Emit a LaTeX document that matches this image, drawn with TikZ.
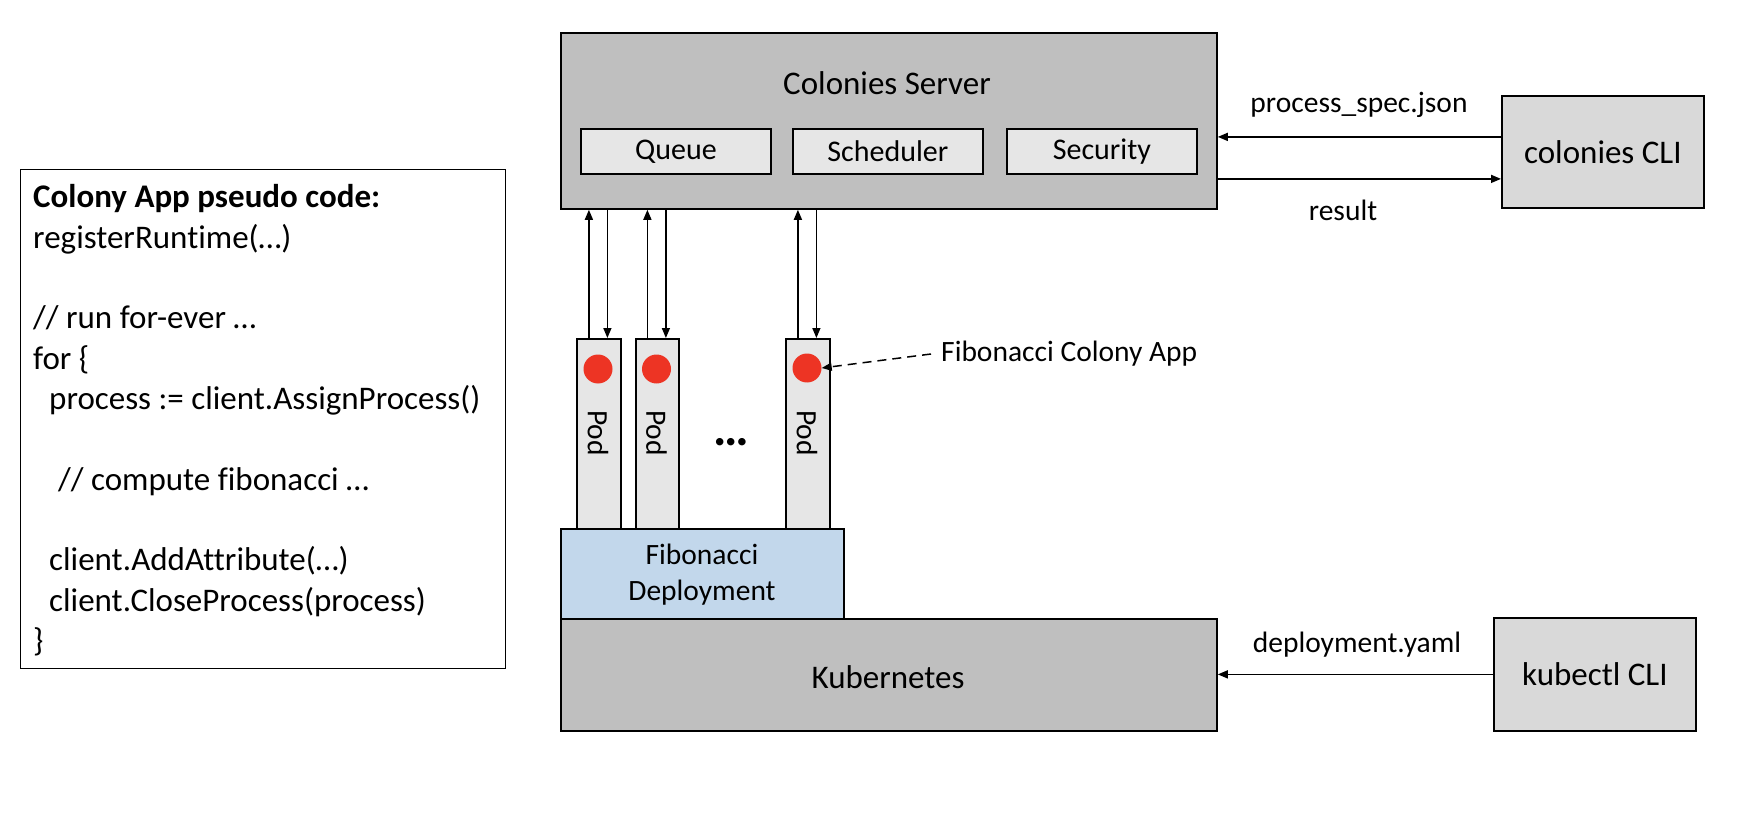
\documentclass[tikz,border=0pt]{standalone}
\usepackage{fontspec}
\setmainfont{Carlito}[Ligatures={NoCommon}]
\usetikzlibrary{arrows.meta}
\definecolor{srvgray}{RGB}{191,191,191}
\definecolor{subgray}{RGB}{230,230,230}
\definecolor{cligray}{RGB}{217,217,217}
\definecolor{deplblue}{RGB}{194,215,235}
\definecolor{dotred}{RGB}{237,52,36}
\tikzset{
  box/.style={draw=black, line width=1.8pt, inner sep=0pt, anchor=north west},
  arr/.style={line width=1.5pt, -{Triangle[length=10pt,width=8pt]}},
  codeline/.style={anchor=base west, inner sep=0pt, font=\fontsize{33}{40}\selectfont},
  bigtext/.style={inner sep=0pt, font=\fontsize{33}{40}\selectfont},
  midtext/.style={inner sep=0pt, font=\fontsize{30}{36}\selectfont},
  lbltext/.style={inner sep=0pt, font=\fontsize{29.5}{36}\selectfont},
  podtext/.style={inner sep=0pt, rotate=-90, font=\fontsize{29.5}{36}\selectfont},
  reddot/.style={circle, fill=dotred, minimum size=29pt, inner sep=0pt},
}
\begin{document}
\begin{tikzpicture}[x=1pt,y=-1pt]
\useasboundingbox (0,0) rectangle (1740,818);

% code box
\node[box, line width=1.2pt, minimum width=485pt, minimum height=499pt] (codebox) at (20,169) {};
\node[codeline, font=\fontsize{33}{40}\selectfont\bfseries] (c0) at (33,208) {Colony App pseudo code:};
\node[codeline] (c1) at (33,248.3) {registerRuntime(…)};
\node[codeline] (c3) at (33,328.9) {// run for-ever …};
\node[codeline] (c4) at (33,369.2) {for \{};
\node[codeline] (c5) at (49,409.5) {process := client.AssignProcess()};
\node[codeline] (c7) at (58,490.1) {// compute fibonacci …};
\node[codeline] (c9) at (49,570.7) {client.AddAttribute(…)};
\node[codeline] (c10) at (49,611) {client.CloseProcess(process)};
\node[codeline] (c11) at (33,651.3) {\}};

% colonies server
\node[box, fill=srvgray, minimum width=656pt, minimum height=176pt] (server) at (560,32) {};
\node[bigtext] (servertext) at (887,83) {Colonies Server};
\node[box, fill=subgray, minimum width=190pt, minimum height=45pt] (queue) at (580,128) {};
\node[midtext] at (queue.center) {Queue};
\node[box, fill=subgray, minimum width=190pt, minimum height=45pt] (sched) at (792,128) {};
\node[midtext] at (sched.center) {Scheduler};
\node[box, fill=subgray, minimum width=190pt, minimum height=45pt] (secur) at (1006,128) {};
\node[midtext] at (secur.center) {Security};

% colonies CLI
\node[box, fill=cligray, minimum width=202pt, minimum height=112pt] (cli) at (1501,95) {};
\node[bigtext] at (cli.center) {colonies CLI};

% kubernetes
\node[box, fill=srvgray, minimum width=656pt, minimum height=112pt] (kube) at (560,618) {};
\node[bigtext] at (888,677) {Kubernetes};

% kubectl CLI
\node[box, fill=cligray, minimum width=202pt, minimum height=113pt] (kctl) at (1493,617) {};
\node[bigtext] at (kctl.center) {kubectl CLI};

% deployment
\node[box, fill=deplblue, minimum width=283pt, minimum height=90pt] (depl) at (560,528) {};
\node[inner sep=0pt, align=center, font=\fontsize{29.5}{36}\selectfont] at (702,575) {Fibonacci\\Deployment};

% pods
\node[box, fill=subgray, minimum width=44pt, minimum height=190pt] (pod1) at (576,338) {};
\node[box, fill=subgray, minimum width=43pt, minimum height=190pt] (pod2) at (635,338) {};
\node[box, fill=subgray, minimum width=44pt, minimum height=190pt] (pod3) at (785,338) {};
\node[reddot] (dot1) at (598,369) {};
\node[reddot] (dot2) at (656.5,369) {};
\node[reddot] (dot3) at (807,368) {};
\node[podtext] at (598,433) {Pod};
\node[podtext] at (656.5,433) {Pod};
\node[podtext] at (807,433) {Pod};
\node[inner sep=0pt, font=\fontsize{50}{60}\selectfont\bfseries] (dots) at (731,442) {…};

% pod <-> server arrows
\foreach \p in {pod1,pod2,pod3}{
  \draw[arr] ([xshift=-10pt]\p.north) -- ([xshift=-10pt]\p.north |- server.south);
  \draw[arr] ([xshift=8.5pt]\p.north |- server.south) -- ([xshift=8.5pt]\p.north);
}

% fibonacci colony app label
\node[lbltext, anchor=west] (fibapp) at (941,354) {Fibonacci Colony App};
\draw[line width=1.5pt, dash pattern=on 9pt off 6pt, -{Triangle[length=10pt,width=8pt]}] ([xshift=-10pt]fibapp.west) -- (dot3.east);

% cli arrows
\draw[arr] ([yshift=15pt]cli.west) -- ([yshift=15pt]cli.west -| server.east);
\draw[arr] ([yshift=-27pt]cli.west -| server.east) -- ([yshift=-27pt]cli.west);
\node[lbltext] at (1359,105) {process\_spec.json};
\node[lbltext] at (1343,210) {result};

% kubectl arrow
\draw[arr] (kctl.west) -- (kctl.west -| kube.east);
\node[lbltext] at (1357,645) {deployment.yaml};
\end{tikzpicture}
\end{document}
